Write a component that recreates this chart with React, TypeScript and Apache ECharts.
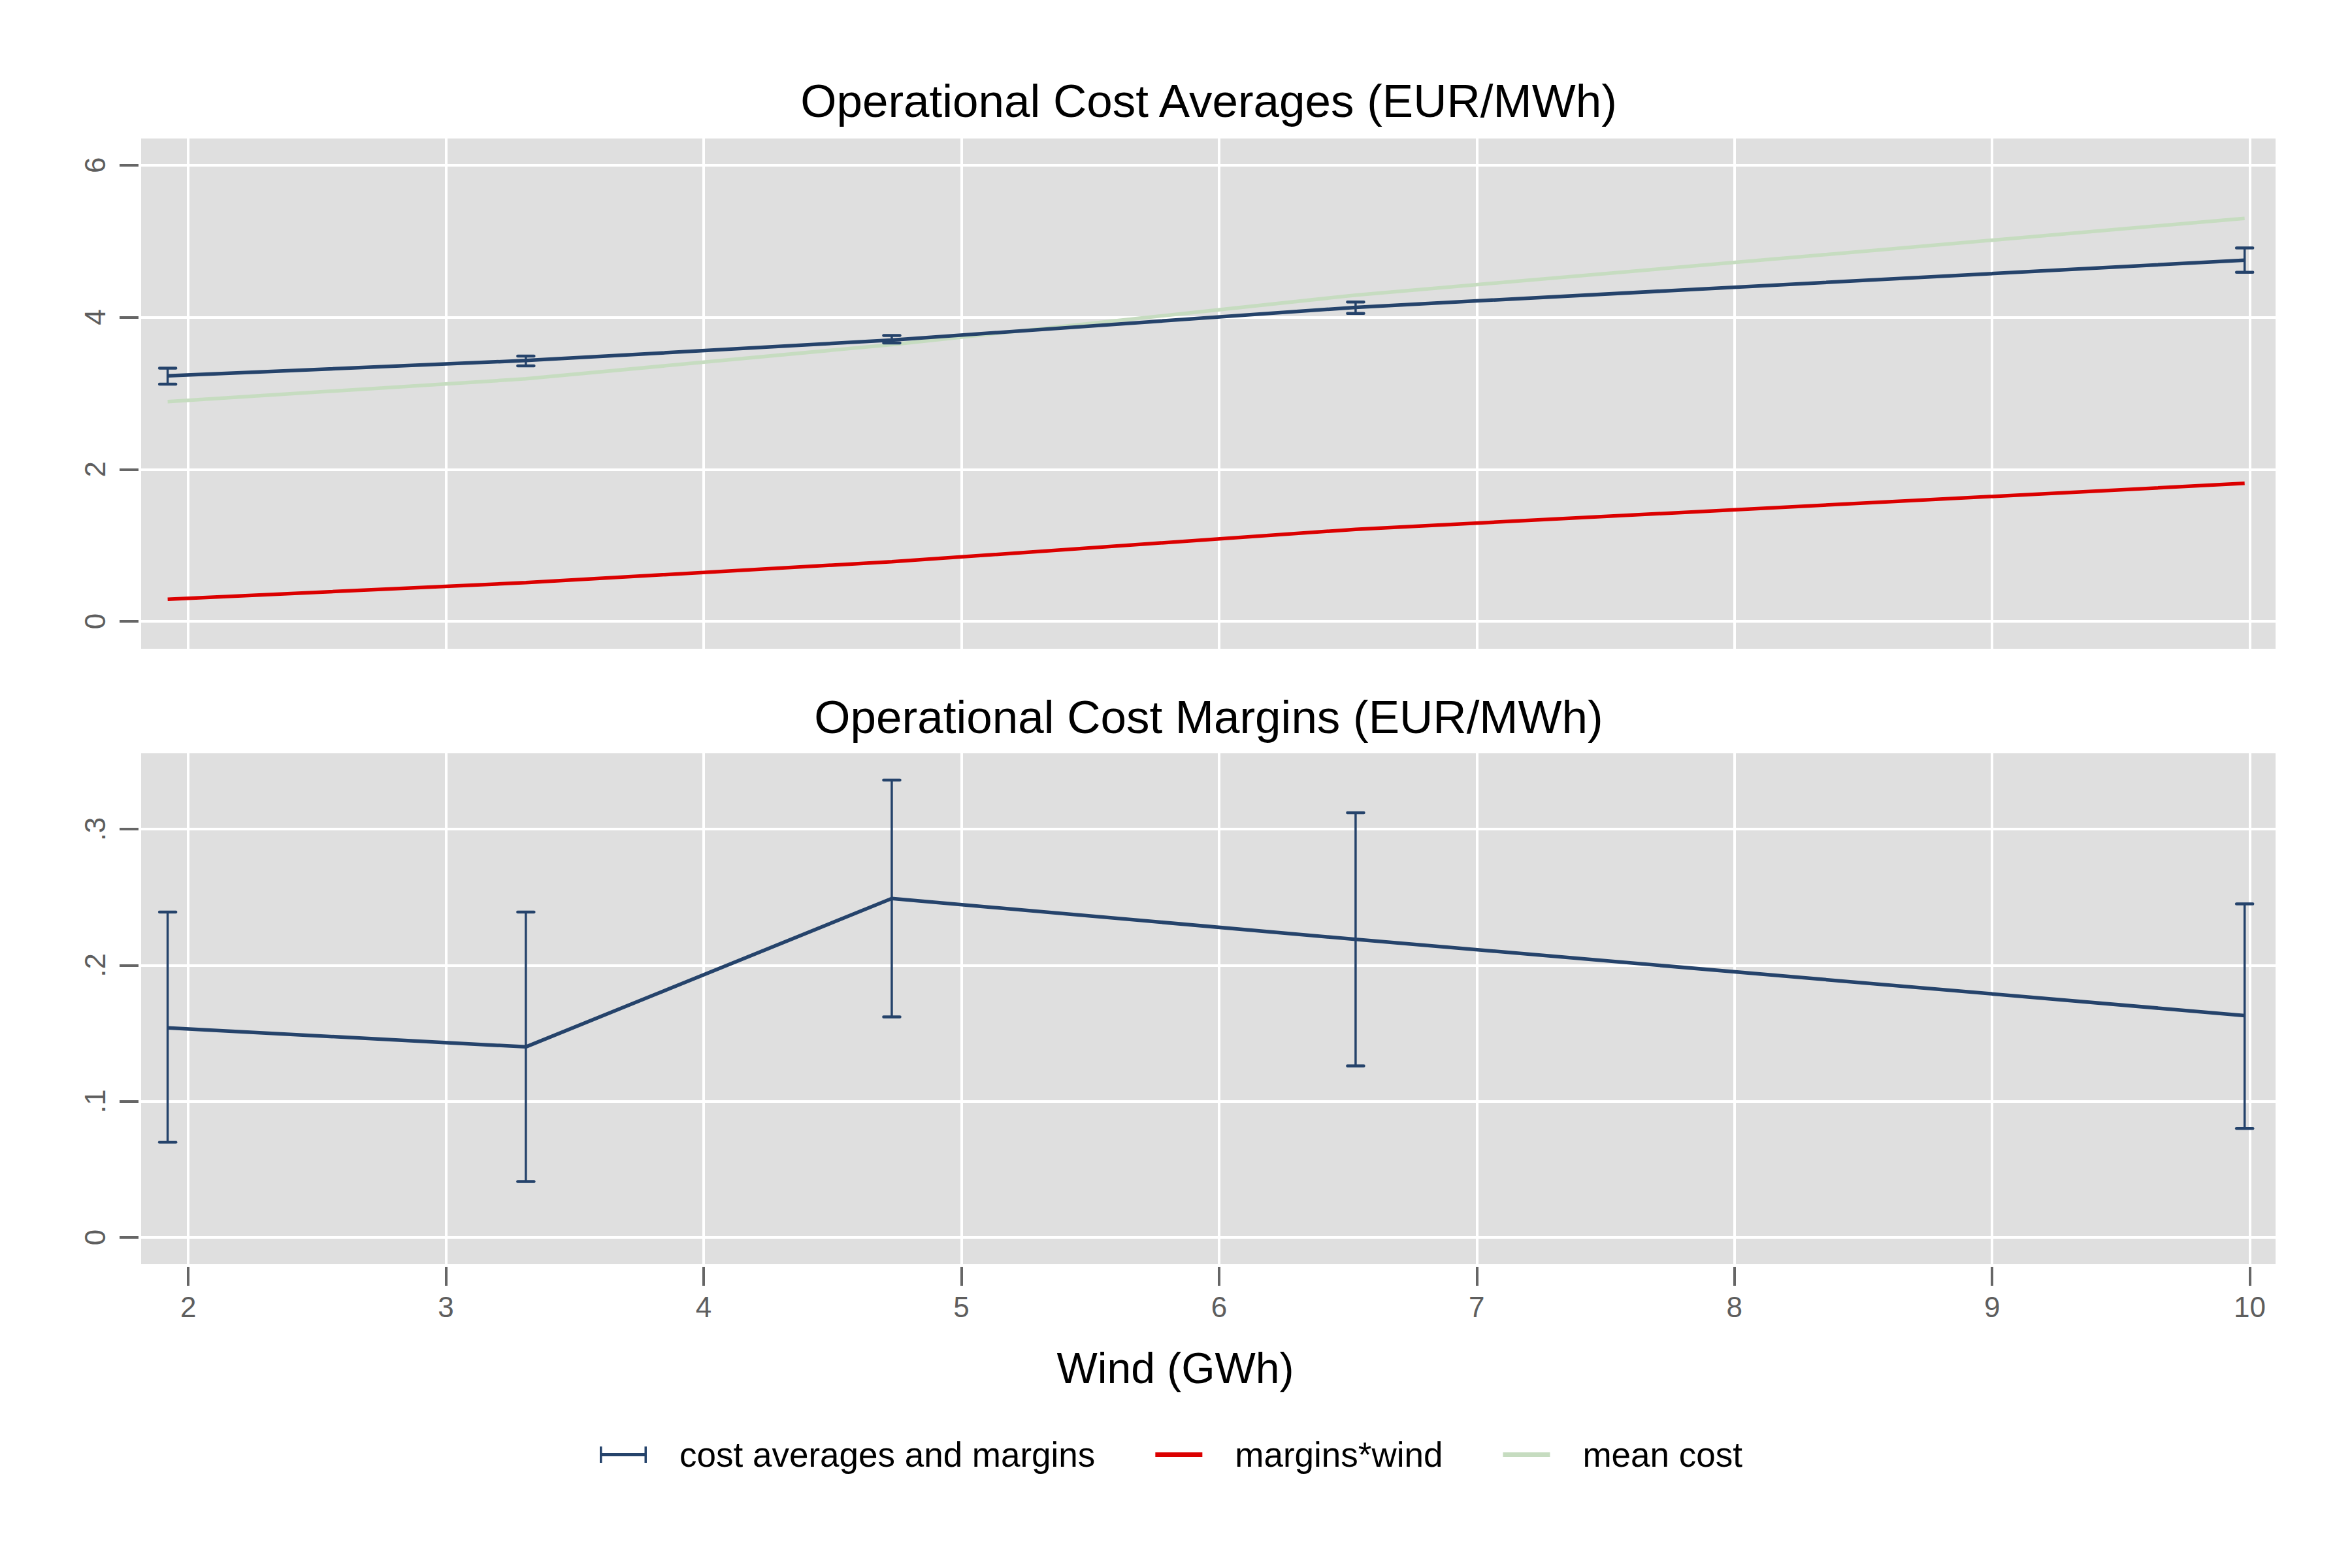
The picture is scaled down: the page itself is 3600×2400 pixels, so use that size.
import React, { useEffect, useRef } from "react";
import * as echarts from "echarts";

// ---- data ----
const windGWh = [1.92, 3.31, 4.73, 6.53, 9.98];
const costAverages = [3.23, 3.43, 3.7, 4.13, 4.75];
const costAveragesLow = [3.12, 3.36, 3.66, 4.05, 4.59];
const costAveragesHigh = [3.33, 3.49, 3.76, 4.2, 4.91];
const marginsWind = [0.29, 0.51, 0.785, 1.21, 1.815];
const meanCost = [2.89, 3.19, 3.64, 4.29, 5.3];
const costMargins = [0.154, 0.14, 0.249, 0.219, 0.163];
const costMarginsLow = [0.07, 0.041, 0.162, 0.126, 0.08];
const costMarginsHigh = [0.239, 0.239, 0.336, 0.312, 0.245];

const xTicks = [2, 3, 4, 5, 6, 7, 8, 9, 10];
const yTicksTop = [0, 2, 4, 6];
const yTicksBottom = [0, 0.1, 0.2, 0.3];

const titleTop = "Operational Cost Averages (EUR/MWh)";
const titleBottom = "Operational Cost Margins (EUR/MWh)";
const xTitle = "Wind (GWh)";
const nameAvg = "cost averages and margins";
const nameMW = "margins*wind";
const nameMean = "mean cost";

// ---- styling ----
const NAVY = "#25436b";
const RED = "#db0000";
const GREEN = "#c6dcc0";
const PLOT_BG = "#dfdfdf";
const TICK = "#666666";
const LABEL = "#5e5e5e";
const FONT = "Liberation Sans, Arial, Helvetica, sans-serif";

const ICON_RCAP =
  "path://M116.99,24.99h0.01v0.01h-0.01z M0,0h3.5v25h-3.5z M3.5,10h65v5h-65z M68.5,0h3.5v25h-3.5z";
const ICON_LINE =
  "path://M0,0h0.01v0.01h-0.01z M116.99,24.99h0.01v0.01h-0.01z M0,9h72v7h-72z";

const pairs = (xs: number[], ys: number[]) => xs.map((x, i) => [x, ys[i]]);
const triples = (xs: number[], lo: number[], hi: number[]) =>
  xs.map((x, i) => [x, lo[i], hi[i]]);

const renderErrorBar = (_params: any, api: any) => {
  const x = api.value(0);
  const lo = api.coord([x, api.value(1)]);
  const hi = api.coord([x, api.value(2)]);
  const half = 12.5;
  const vStyle = { stroke: NAVY, lineWidth: 3.5, fill: null };
  const cStyle = { stroke: NAVY, lineWidth: 4.5, lineCap: "round", fill: null };
  return {
    type: "group",
    children: [
      { type: "line", shape: { x1: lo[0], y1: lo[1], x2: hi[0], y2: hi[1] }, style: vStyle },
      { type: "line", shape: { x1: lo[0] - half, y1: lo[1], x2: lo[0] + half, y2: lo[1] }, style: cStyle },
      { type: "line", shape: { x1: hi[0] - half, y1: hi[1], x2: hi[0] + half, y2: hi[1] }, style: cStyle },
    ],
  };
};

export default function App() {
  const ref = useRef<HTMLDivElement>(null);

  useEffect(() => {
    document.body.style.margin = "0";
    if (!ref.current) return;
    const chart = echarts.init(ref.current, null, { renderer: "svg" });

    const tickStyle = { show: true, inside: false, length: 29, lineStyle: { color: TICK, width: 4 } };
    const splitStyle = { show: true, lineStyle: { color: "#ffffff", width: 4 } };
    const labelStyle = { color: LABEL, fontSize: 44, fontFamily: FONT };
    const noLine = { show: false, onZero: false };
    const titleText = { fontSize: 71, fontWeight: "normal", color: "#000", fontFamily: FONT };

    const option: any = {
      animation: false,
      backgroundColor: "#ffffff",
      textStyle: { fontFamily: FONT },
      title: [
        { text: titleTop, left: 1850, top: 119, textAlign: "center", padding: 0, textStyle: titleText },
        { text: titleBottom, left: 1850, top: 1062, textAlign: "center", padding: 0, textStyle: titleText },
        {
          text: xTitle, left: 1799, top: 2061, textAlign: "center", padding: 0,
          textStyle: { ...titleText, fontSize: 66 },
        },
      ],
      legend: {
        left: 918, top: 2200, padding: 0, orient: "horizontal",
        itemWidth: 117, itemHeight: 25, itemGap: 92,
        selectedMode: false,
        textStyle: { fontSize: 53, color: "#000", fontFamily: FONT },
        data: [
          { name: nameAvg, icon: ICON_RCAP, itemStyle: { color: NAVY, borderWidth: 0 } },
          { name: nameMW, icon: ICON_LINE, itemStyle: { color: RED, borderWidth: 0 } },
          { name: nameMean, icon: ICON_LINE, itemStyle: { color: GREEN, borderWidth: 0 } },
        ],
      },
      grid: [
        { left: 216, top: 212, width: 3267, height: 781, show: true, backgroundColor: PLOT_BG, borderWidth: 0 },
        { left: 216, top: 1153, width: 3267, height: 782, show: true, backgroundColor: PLOT_BG, borderWidth: 0 },
      ],
      xAxis: [
        {
          type: "value", gridIndex: 0, min: 1.817, max: 10.1, offset: 4, position: "bottom",
          axisLine: noLine,
          axisTick: { show: false, customValues: xTicks },
          axisLabel: { show: false, customValues: xTicks },
          splitLine: splitStyle,
        },
        {
          type: "value", gridIndex: 1, min: 1.817, max: 10.1, offset: 4, position: "bottom",
          axisLine: noLine,
          axisTick: { ...tickStyle, customValues: xTicks },
          axisLabel: { ...labelStyle, margin: 39, customValues: xTicks },
          splitLine: splitStyle,
        },
      ],
      yAxis: [
        {
          type: "value", gridIndex: 0, min: -0.36, max: 6.35, offset: 4, position: "left",
          axisLine: noLine,
          axisTick: { ...tickStyle, customValues: yTicksTop },
          axisLabel: { ...labelStyle, rotate: 90, margin: 45, customValues: yTicksTop },
          splitLine: splitStyle,
        },
        {
          type: "value", gridIndex: 1, min: -0.0197, max: 0.3557, offset: 4, position: "left",
          axisLine: noLine,
          axisTick: { ...tickStyle, customValues: yTicksBottom },
          axisLabel: {
            ...labelStyle, rotate: 90, margin: 45, customValues: yTicksBottom,
            formatter: (v: number) => (Math.abs(v) < 1e-9 ? "0" : v.toFixed(1).replace(/^0/, "")),
          },
          splitLine: splitStyle,
        },
      ],
      series: [
        {
          name: nameMean, type: "line", xAxisIndex: 0, yAxisIndex: 0,
          data: pairs(windGWh, meanCost), symbol: "none", showSymbol: false, silent: true,
          lineStyle: { color: GREEN, width: 5.5 }, itemStyle: { color: GREEN }, z: 2,
        },
        {
          name: nameMW, type: "line", xAxisIndex: 0, yAxisIndex: 0,
          data: pairs(windGWh, marginsWind), symbol: "none", showSymbol: false, silent: true,
          lineStyle: { color: RED, width: 5.5 }, itemStyle: { color: RED }, z: 3,
        },
        {
          name: nameAvg, type: "custom", xAxisIndex: 0, yAxisIndex: 0,
          data: triples(windGWh, costAveragesLow, costAveragesHigh),
          encode: { x: 0, y: [1, 2] }, renderItem: renderErrorBar, silent: true,
          itemStyle: { color: NAVY }, z: 4,
        },
        {
          name: nameAvg, type: "line", xAxisIndex: 0, yAxisIndex: 0,
          data: pairs(windGWh, costAverages), symbol: "none", showSymbol: false, silent: true,
          lineStyle: { color: NAVY, width: 5.5 }, itemStyle: { color: NAVY }, z: 4,
        },
        {
          name: nameAvg, type: "custom", xAxisIndex: 1, yAxisIndex: 1,
          data: triples(windGWh, costMarginsLow, costMarginsHigh),
          encode: { x: 0, y: [1, 2] }, renderItem: renderErrorBar, silent: true,
          itemStyle: { color: NAVY }, z: 4,
        },
        {
          name: nameAvg, type: "line", xAxisIndex: 1, yAxisIndex: 1,
          data: pairs(windGWh, costMargins), symbol: "none", showSymbol: false, silent: true,
          lineStyle: { color: NAVY, width: 5.5 }, itemStyle: { color: NAVY }, z: 4,
        },
      ],
    };

    chart.setOption(option);
    return () => chart.dispose();
  }, []);

  return <div ref={ref} style={{ width: 3600, height: 2400 }} />;
}
